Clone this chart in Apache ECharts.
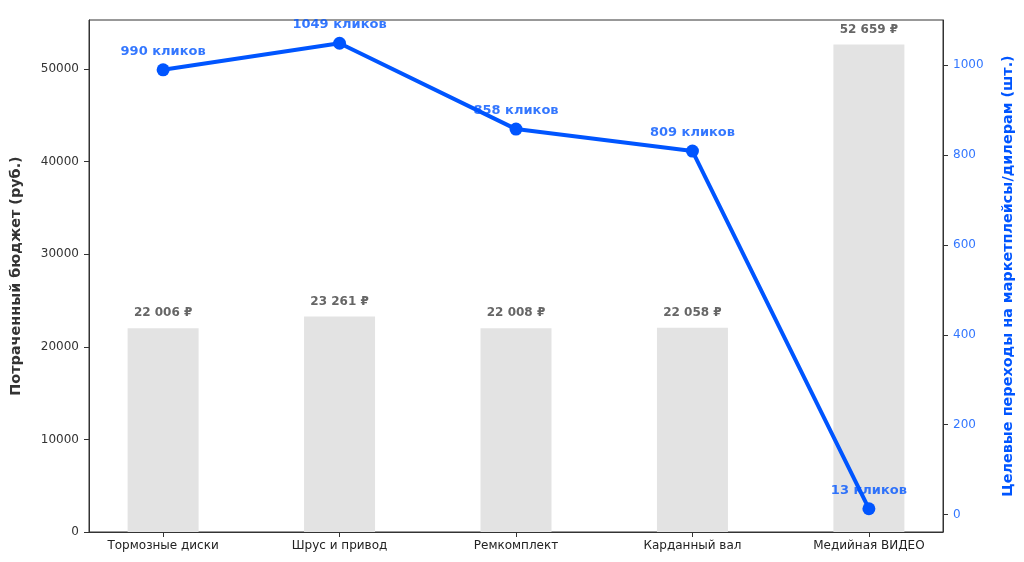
<!DOCTYPE html>
<html><head><meta charset="utf-8">
<script src="https://cdn.jsdelivr.net/npm/echarts@6/dist/echarts.min.js"></script>
<style>html,body{margin:0;padding:0;background:#fff}#c{width:1024px;height:562px}</style>
</head><body><div id="c"></div>
<script>
const categories = ['Тормозные диски', 'Шрус и привод', 'Ремкомплект', 'Карданный вал', 'Медийная ВИДЕО'];
const budget = [22006, 23261, 22008, 22058, 52659];
const clicks = [990, 1049, 858, 809, 13];
const leftTicks = [0, 10000, 20000, 30000, 40000, 50000];
const rightTicks = [0, 200, 400, 600, 800, 1000];

const FONT = 'DejaVu Sans';
const BLUE = '#0055ff';
function rub(v){ return String(v).replace(/\B(?=(\d{3})+(?!\d))/g, ' ') + ' ₽'; }
const idx = categories.map((_, i) => i);

const chart = echarts.init(document.getElementById('c'));
chart.setOption({
  animation: false,
  textStyle: { fontFamily: FONT },
  grid: { left: 89, right: 81, top: 20, bottom: 30, show: true, borderColor: '#333', borderWidth: 1, backgroundColor: 'transparent' },
  xAxis: {
    type: 'value', min: -0.42, max: 4.42,
    splitLine: { show: false },
    axisLine: { show: true, onZero: false, lineStyle: { color: '#333' } },
    axisTick: { show: true, length: 5, customValues: idx, lineStyle: { color: '#333' } },
    axisLabel: { customValues: idx, color: '#222', fontSize: 12, margin: 8, fontFamily: FONT,
      formatter: v => categories[Math.round(v)] }
  },
  yAxis: [
    {
      type: 'value', min: 0, max: 55292,
      splitLine: { show: false },
      axisLine: { show: true, onZero: false, lineStyle: { color: '#333' } },
      axisTick: { show: true, length: 5, customValues: leftTicks, lineStyle: { color: '#333' } },
      axisLabel: { customValues: leftTicks, color: '#333', fontSize: 12, margin: 10, fontFamily: FONT,
        formatter: v => String(v) },
      name: 'Потраченный бюджет (руб.)', nameLocation: 'middle', nameRotate: 90, nameGap: 66,
      nameTextStyle: { color: '#333', fontWeight: 'bold', fontSize: 14.4, fontFamily: FONT }
    },
    {
      type: 'value', min: -38.8, max: 1100.8, position: 'right',
      splitLine: { show: false },
      axisLine: { show: true, onZero: false, lineStyle: { color: '#333' } },
      axisTick: { show: true, length: 5, customValues: rightTicks, lineStyle: { color: '#333' } },
      axisLabel: { customValues: rightTicks, color: '#3377ff', fontSize: 12, margin: 10, fontFamily: FONT,
        formatter: v => String(v) },
      name: 'Целевые переходы на маркетплейсы/дилерам (шт.)', nameLocation: 'middle', nameRotate: 90, nameGap: 58,
      nameTextStyle: { color: BLUE, fontWeight: 'bold', fontSize: 14.4, fontFamily: FONT }
    }
  ],
  series: [
    {
      type: 'bar', yAxisIndex: 0, barWidth: 71, z: 1,
      data: budget.map((v, i) => [i, v]),
      itemStyle: { color: '#e3e3e3' },
      label: { show: true, position: 'top', distance: 9, color: '#666', fontWeight: 'bold', fontSize: 12, fontFamily: FONT,
        formatter: p => rub(p.value[1]) }
    },
    {
      type: 'scatter', yAxisIndex: 1, symbolSize: 0, z: 2,
      data: clicks.map((v, i) => [i, v]),
      label: { show: true, position: 'top', distance: 12, color: BLUE, fontWeight: 'bold', fontSize: 13, fontFamily: FONT,
        formatter: p => p.value[1] + ' кликов' }
    },
    {
      type: 'line', yAxisIndex: 1, z: 5,
      data: clicks.map((v, i) => [i, v]),
      symbol: 'circle', symbolSize: 13,
      lineStyle: { color: BLUE, width: 4 },
      itemStyle: { color: BLUE }
    }
  ]
});
</script></body></html>
